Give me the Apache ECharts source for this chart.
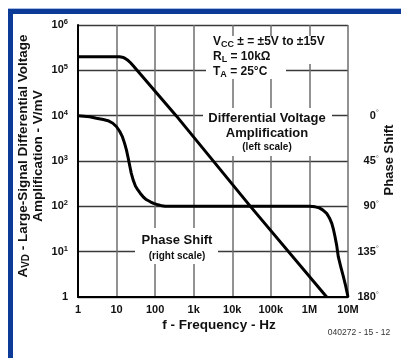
<!DOCTYPE html>
<html>
<head>
<meta charset="utf-8">
<script src="https://cdn.jsdelivr.net/npm/echarts@6/dist/echarts.min.js"></script>
<style>
	html, body { margin: 0; padding: 0; background: #fff; }
	#chart { width: 401px; height: 358px; }
</style>
</head>
<body>
<div id="chart"></div>
<script>
	// frequency axis labels (Hz)
	var freqLabels = ["1", "10", "100", "1k", "10k", "100k", "1M", "10M"];
	// differential voltage amplification, left scale (V/mV)
	var gainFreq = [1, 10, 12, 14, 16, 18, 20, 23, 27, 34, 350, 29500, 2800000];
	var gainVals = [200000, 200000, 199000, 195000, 187000, 176000, 164000, 147000, 126000, 100000, 10000, 100, 1];
	// phase shift, right scale (degrees)
	var phaseFreq = [1, 2, 3, 4.5, 6, 8, 10, 12, 14, 16, 18, 20, 22, 24, 27, 31, 36, 41, 50, 60, 75, 91, 120, 150, 180,
		1000000, 1400000, 1800000, 2200000, 2800000, 3300000, 3800000, 4200000, 4600000, 5100000, 5600000, 6500000, 7500000, 8700000, 10000000];
	var phaseVals = [0, 1, 2.5, 3.8, 5, 7.5, 11, 15.5, 20.5, 27, 34, 42, 50, 57, 64, 70, 74, 77, 81, 83.5, 85.5, 87, 88.5, 89.5, 90,
		90, 90.5, 91.5, 93.5, 97, 101.5, 107, 113, 120, 129, 140, 150, 159, 169, 180];

	var font = "Liberation Sans, Arial, sans-serif";
	var chart = echarts.init(document.getElementById("chart"));

	function pairs(xs, ys) {
		return xs.map(function(x, i) { return [x, ys[i]]; });
	}

	chart.setOption({
		animation: false,
		grid: { left: 78, right: 53, top: 25, bottom: 61 },
		xAxis: {
			type: "log",
			logBase: 10,
			min: 1,
			max: 10000000,
			axisLine: { onZero: false, lineStyle: { color: "#000", width: 2 } },
			axisTick: { show: false },
			axisLabel: {
				margin: 7,
				fontFamily: font,
				fontWeight: "bold",
				fontSize: 11,
				color: "#111",
				formatter: function(v) {
					return freqLabels[Math.round(Math.log10(v))];
				}
			},
			splitLine: { show: true, lineStyle: { color: "#6e6e6e", width: 1.5 } }
		},
		yAxis: [
			{
				type: "log",
				logBase: 10,
				min: 1,
				max: 1000000,
				axisLine: { show: true, lineStyle: { color: "#000", width: 2 } },
				axisTick: { show: false },
				axisLabel: {
					margin: 10,
					color: "#111",
					formatter: function(v) {
						var e = Math.round(Math.log10(v));
						return e === 0 ? "{b|1}" : "{b|10}{e|" + e + "}";
					},
					rich: {
						b: { fontFamily: font, fontWeight: "bold", fontSize: 11, color: "#111" },
						e: { fontFamily: font, fontWeight: "bold", fontSize: 7.5, color: "#111", verticalAlign: "top", padding: [0, 0, 6, 0] }
					}
				},
				splitLine: { show: true, lineStyle: { color: "#3a3a3a", width: 1.3 } }
			},
			{
				type: "value",
				position: "right",
				inverse: true,
				min: -90,
				max: 180,
				interval: 45,
				axisLine: { show: false },
				axisTick: { show: false },
				splitLine: { show: false },
				axisLabel: {
					margin: 31,
					align: "right",
					formatter: function(v) {
						return v < 0 ? "" : "{b|" + v + "}{d|°}";
					},
					rich: {
						b: { fontFamily: font, fontWeight: "bold", fontSize: 11, color: "#111" },
						d: { fontFamily: font, fontSize: 8, color: "#666", verticalAlign: "top", padding: [0, 0, 5, 0] }
					}
				}
			}
		],
		series: [
			{
				name: "gain",
				type: "line",
				yAxisIndex: 0,
				data: pairs(gainFreq, gainVals),
				showSymbol: false,
				symbol: "none",
				lineStyle: { color: "#000", width: 3, join: "round" },
				z: 3
			},
			{
				name: "phase",
				type: "line",
				yAxisIndex: 1,
				data: pairs(phaseFreq, phaseVals),
				showSymbol: false,
				symbol: "none",
				lineStyle: { color: "#000", width: 3, join: "round" },
				z: 3
			}
		],
		graphic: [
			// blue frame
			{ type: "rect", shape: { x: 8, y: 8, width: 393, height: 1 }, style: { fill: "#a9bde3" }, z: 10 },
			{ type: "rect", shape: { x: 8, y: 9, width: 393, height: 5 }, style: { fill: "#0b3b96" }, z: 10 },
			{ type: "rect", shape: { x: 8, y: 9, width: 5, height: 349 }, style: { fill: "#0b3b96" }, z: 10 },
			// white patches that break the grid under the notes
			{ type: "rect", shape: { x: 206, y: 36, width: 124, height: 28 }, style: { fill: "#fff" }, z: 1 },
			{ type: "rect", shape: { x: 206, y: 64, width: 80, height: 15 }, style: { fill: "#fff" }, z: 1 },
			{ type: "rect", shape: { x: 203, y: 108, width: 129, height: 48 }, style: { fill: "#fff" }, z: 1 },
			{ type: "rect", shape: { x: 135, y: 228, width: 83, height: 36 }, style: { fill: "#fff" }, z: 1 },
			// conditions
			{
				type: "text", x: 213, y: 42, z: 2,
				style: {
					text: "{n|V}{s|CC}{n| ± = ±5V to ±15V}",
					verticalAlign: "middle",
					rich: {
						n: { font: "bold 12px " + font, fill: "#111" },
						s: { font: "bold 9px " + font, fill: "#111", verticalAlign: "bottom", padding: [5, 0, 0, 0] }
					}
				}
			},
			{
				type: "text", x: 213, y: 57, z: 2,
				style: {
					text: "{n|R}{s|L}{n| = 10kΩ}",
					verticalAlign: "middle",
					rich: {
						n: { font: "bold 12px " + font, fill: "#111" },
						s: { font: "bold 9px " + font, fill: "#111", verticalAlign: "bottom", padding: [5, 0, 0, 0] }
					}
				}
			},
			{
				type: "text", x: 213, y: 72, z: 2,
				style: {
					text: "{n|T}{s|A}{n| = 25°C}",
					verticalAlign: "middle",
					rich: {
						n: { font: "bold 12px " + font, fill: "#111" },
						s: { font: "bold 9px " + font, fill: "#111", verticalAlign: "bottom", padding: [5, 0, 0, 0] }
					}
				}
			},
			// curve notes
			{ type: "text", x: 267, y: 118, z: 2, style: { text: "Differential Voltage", font: "bold 13px " + font, fill: "#111", align: "center", verticalAlign: "middle" } },
			{ type: "text", x: 267, y: 133, z: 2, style: { text: "Amplification", font: "bold 13px " + font, fill: "#111", align: "center", verticalAlign: "middle" } },
			{ type: "text", x: 267, y: 147, z: 2, style: { text: "(left scale)", font: "bold 10px " + font, fill: "#111", align: "center", verticalAlign: "middle" } },
			{ type: "text", x: 177, y: 240, z: 2, style: { text: "Phase Shift", font: "bold 13px " + font, fill: "#111", align: "center", verticalAlign: "middle" } },
			{ type: "text", x: 177, y: 256, z: 2, style: { text: "(right scale)", font: "bold 10px " + font, fill: "#111", align: "center", verticalAlign: "middle" } },
			// axis titles
			{ type: "text", x: 219, y: 325, z: 2, style: { text: "f - Frequency - Hz", font: "bold 13.5px " + font, fill: "#111", align: "center", verticalAlign: "middle" } },
			{
				type: "text", x: 31, y: 156, rotation: Math.PI / 2, z: 2,
				style: {
					text: "{n|A}{s|VD}{n| - Large-Signal Differential Voltage}\n{n|Amplification - V/mV}",
					align: "center",
					verticalAlign: "middle",
					rich: {
						n: { font: "bold 13.5px " + font, fill: "#111", lineHeight: 15 },
						s: { font: "bold 10px " + font, fill: "#111", verticalAlign: "bottom", lineHeight: 15, padding: [4, 0, 0, 0] }
					}
				}
			},
			{ type: "text", x: 389, y: 160, rotation: Math.PI / 2, z: 2, style: { text: "Phase Shift", font: "bold 13px " + font, fill: "#111", align: "center", verticalAlign: "middle" } },
			{ type: "text", x: 359, y: 333, z: 2, style: { text: "040272 - 15 - 12", font: "8.5px " + font, fill: "#333", align: "center", verticalAlign: "middle" } }
		]
	});
</script>
</body>
</html>
